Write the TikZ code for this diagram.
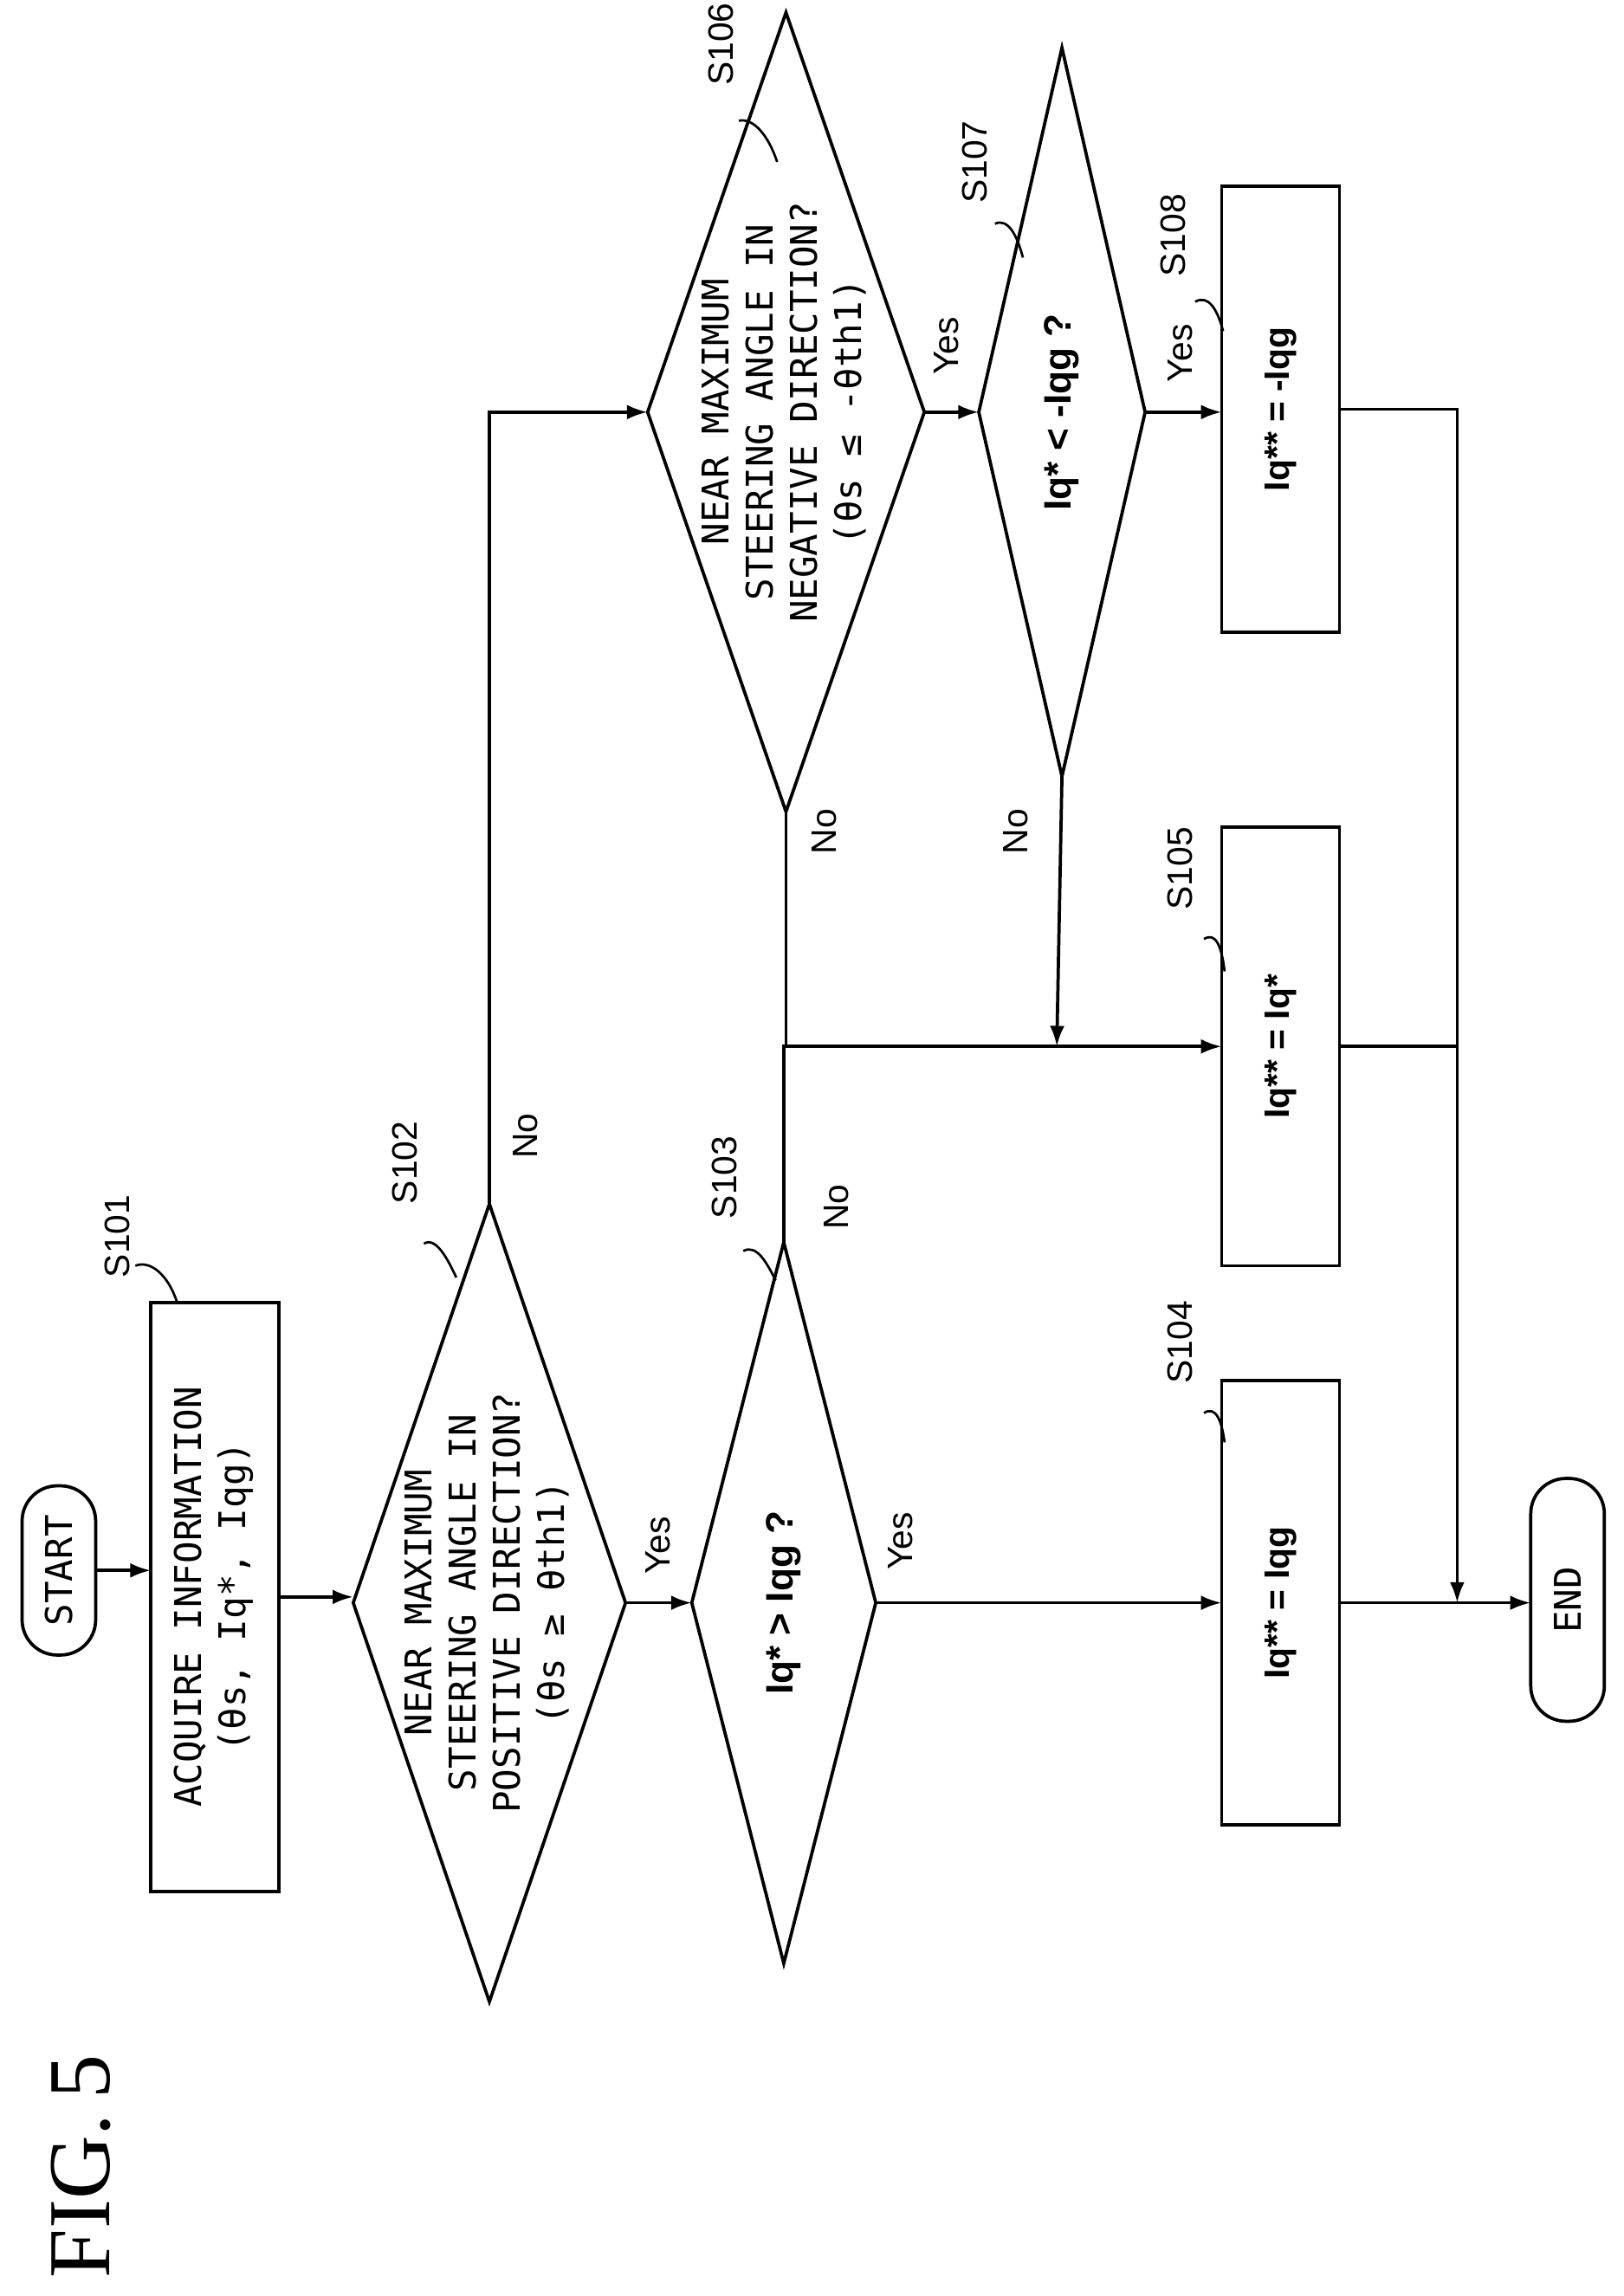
\documentclass[tikz,border=0pt]{standalone}
\usepackage{fontspec}
\setmainfont{Liberation Sans}
\newfontfamily\monof{DejaVu Sans Mono}
\newfontfamily\figf{Liberation Serif}
\usetikzlibrary{shapes.geometric,arrows.meta}
\begin{document}
\begin{tikzpicture}[x=0.5pt,y=-0.5pt,
  every path/.style={line width=1.1pt},
  arr/.style={-{Latex[length=7pt,width=5pt]}},
  box/.style={draw,rectangle,inner sep=0,outer sep=0},
  dia/.style={draw,diamond,inner sep=0,outer sep=0},
  term/.style={draw,rounded corners=12pt,inner sep=0,outer sep=0},
  mono/.style={font=\monof\fontsize{12.5}{15}\selectfont},
  eq/.style={font=\bfseries\fontsize{12}{14}\selectfont},
  eqd/.style={font=\bfseries\fontsize{13}{15}\selectfont},
  lab/.style={font=\fontsize{12}{14}\selectfont}]
\useasboundingbox (0,0) rectangle (1103,1560);
% terminals
\node[term,minimum width=50pt*0.5,minimum height=115pt*0.5] (start) at (40,1067) {};
\node[mono] at (start) {\rotatebox{90}{START}};
\node[term,minimum width=50pt*0.5,minimum height=165pt*0.5] (end) at (1065,1087) {};
\node[mono] at (end) {\rotatebox{90}{END}};
% boxes
\node[box,minimum width=87pt*0.5,minimum height=400pt*0.5] (b1) at (146,1085) {};
\node[mono] at (b1) {\rotatebox{90}{\begin{tabular}{@{}c@{}}ACQUIRE INFORMATION\\(θs, Iq*, Iqg)\end{tabular}}};
\node[box,minimum width=80pt*0.5,minimum height=302pt*0.5] (b4) at (870,1089) {};
\node[eq] at (b4) {\rotatebox{90}{Iq** = Iqg}};
\node[box,minimum width=80pt*0.5,minimum height=298pt*0.5] (b5) at (870,711) {};
\node[eq] at (b5) {\rotatebox{90}{Iq** = Iq*}};
\node[box,minimum width=80pt*0.5,minimum height=303pt*0.5] (b8) at (870,278) {};
\node[eq] at (b8) {\rotatebox{90}{Iq** = -Iqg}};
% diamonds
\node[dia,minimum width=185pt*0.5,minimum height=542pt*0.5] (d2) at (332.5,1089) {};
\node[mono] at (d2) {\rotatebox{90}{\begin{tabular}{@{}c@{}}NEAR MAXIMUM\\STEERING ANGLE IN\\POSITIVE DIRECTION?\\(θs ≥ θth1)\end{tabular}}};
\node[dia,minimum width=125pt*0.5,minimum height=490pt*0.5] (d3) at (532.5,1089) {};
\node[eqd] at (d3) {\rotatebox{90}{Iq* > Iqg ?}};
\node[dia,minimum width=188pt*0.5,minimum height=543pt*0.5] (d6) at (534,280) {};
\node[mono] at (d6) {\rotatebox{90}{\begin{tabular}{@{}c@{}}NEAR MAXIMUM\\STEERING ANGLE IN\\NEGATIVE DIRECTION?\\(θs ≤ -θth1)\end{tabular}}};
\node[dia,minimum width=113pt*0.5,minimum height=495pt*0.5] (d7) at (721.5,280) {};
\node[eqd] at (d7) {\rotatebox{90}{Iq* < -Iqg ?}};
% helper coordinates
\coordinate (j1) at (990,1089);
\coordinate (j5) at (718,711);
% connectors
\draw[arr] (start.east) -- (start.east -| b1.west);
\draw[arr] (b1.east) -- (b1.east -| d2.west);
\draw[arr] (d2.east) -- (d3.west);
\draw[arr] (d3.east) -- (b4.west);
\draw[arr] (b4.east) -- (end.west |- b4.east);
\draw[arr] (d2.north) |- (d6.west);
\draw[arr] (d3.north) |- (b5.west);
\draw (d6.south) -- (d6.south |- b5.west);
\draw[arr] (d6.east) -- (d7.west);
\draw[arr] (d7.south) -- (j5);
\draw[arr] (d7.east) -- (d7.east -| b8.west);
\draw (b5.east) -- (b5.east -| j1);
\draw[arr] (b8.east) -| (j1);
% yes/no
\node[lab] at (447,1050) {\rotatebox{90}{Yes}};
\node[lab] at (612,1047) {\rotatebox{90}{Yes}};
\node[lab] at (643,235) {\rotatebox{90}{Yes}};
\node[lab] at (802,240) {\rotatebox{90}{Yes}};
\node[lab] at (357,772) {\rotatebox{90}{No}};
\node[lab] at (568,820) {\rotatebox{90}{No}};
\node[lab] at (560,565) {\rotatebox{90}{No}};
\node[lab] at (690,565) {\rotatebox{90}{No}};
% step labels with leaders
\node[lab] (s101) at (80,840) {\rotatebox{90}{S101}};
\draw[line width=0.8pt] (92,860) .. controls (102,856) and (114,866) .. (120,884);
\node[lab] (s102) at (275,790) {\rotatebox{90}{S102}};
\draw[line width=0.8pt] (288,845) .. controls (296,840) and (304,855) .. (310,868);
\node[lab] (s103) at (492,800) {\rotatebox{90}{S103}};
\draw[line width=0.8pt] (505,850) .. controls (514,845) and (521,858) .. (527,870);
\node[lab] (s104) at (802,912) {\rotatebox{90}{S104}};
\draw[line width=0.8pt] (818,960) .. controls (826,955) and (830,965) .. (832,980);
\node[lab] (s105) at (802,590) {\rotatebox{90}{S105}};
\draw[line width=0.8pt] (818,638) .. controls (826,633) and (830,643) .. (832,660);
\node[lab] (s106) at (490,30) {\rotatebox{90}{S106}};
\draw[line width=0.8pt] (502,82) .. controls (512,80) and (522,92) .. (528,110);
\node[lab] (s107) at (662,110) {\rotatebox{90}{S107}};
\draw[line width=0.8pt] (676,152) .. controls (685,148) and (691,160) .. (695,175);
\node[lab] (s108) at (797,160) {\rotatebox{90}{S108}};
\draw[line width=0.8pt] (812,205) .. controls (821,200) and (827,210) .. (831,225);
% figure label
\node[font=\figf\fontsize{30}{36}\selectfont] at (55,1472) {\rotatebox{90}{FIG.\,5}};
\end{tikzpicture}
\end{document}
